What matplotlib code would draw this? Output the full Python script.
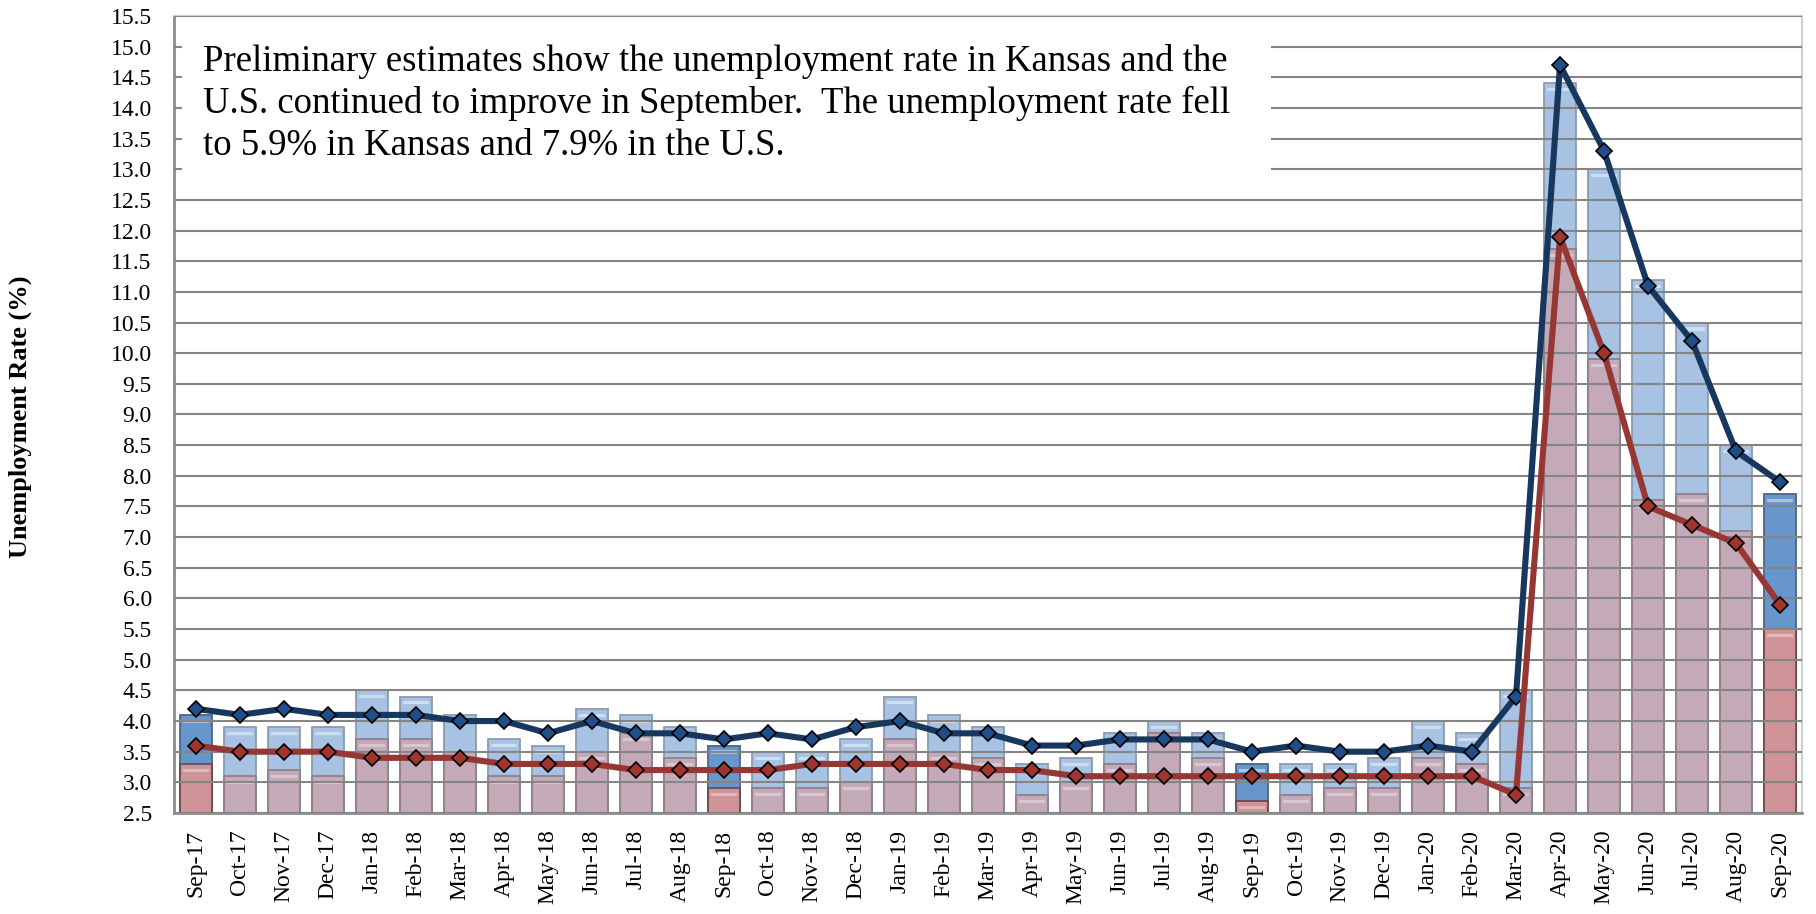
import numpy as np
import matplotlib
matplotlib.use("Agg")
import matplotlib.pyplot as plt
from matplotlib.patches import Rectangle

# month labels, Sep-17 .. Sep-20
months = ["Sep-17", "Oct-17", "Nov-17", "Dec-17", "Jan-18", "Feb-18", "Mar-18", "Apr-18",
          "May-18", "Jun-18", "Jul-18", "Aug-18", "Sep-18", "Oct-18", "Nov-18", "Dec-18",
          "Jan-19", "Feb-19", "Mar-19", "Apr-19", "May-19", "Jun-19", "Jul-19", "Aug-19",
          "Sep-19", "Oct-19", "Nov-19", "Dec-19", "Jan-20", "Feb-20", "Mar-20", "Apr-20",
          "May-20", "Jun-20", "Jul-20", "Aug-20", "Sep-20"]

# not seasonally adjusted (bars)
us_nsa = [4.1, 3.9, 3.9, 3.9, 4.5, 4.4, 4.1, 3.7, 3.6, 4.2, 4.1, 3.9, 3.6, 3.5, 3.5, 3.7,
          4.4, 4.1, 3.9, 3.3, 3.4, 3.8, 4.0, 3.8, 3.3, 3.3, 3.3, 3.4, 4.0, 3.8, 4.5, 14.4,
          13.0, 11.2, 10.5, 8.5, 7.7]
ks_nsa = [3.3, 3.1, 3.2, 3.1, 3.7, 3.7, 3.5, 3.1, 3.1, 3.5, 3.8, 3.4, 2.9, 2.9, 2.9, 3.0,
          3.7, 3.5, 3.4, 2.8, 3.0, 3.3, 3.8, 3.4, 2.7, 2.8, 2.9, 2.9, 3.4, 3.3, 2.9, 11.7,
          9.9, 7.6, 7.7, 7.1, 5.5]

# seasonally adjusted (lines)
us_sa = [4.2, 4.1, 4.2, 4.1, 4.1, 4.1, 4.0, 4.0, 3.8, 4.0, 3.8, 3.8, 3.7, 3.8, 3.7, 3.9,
         4.0, 3.8, 3.8, 3.6, 3.6, 3.7, 3.7, 3.7, 3.5, 3.6, 3.5, 3.5, 3.6, 3.5, 4.4, 14.7,
         13.3, 11.1, 10.2, 8.4, 7.9]
ks_sa = [3.6, 3.5, 3.5, 3.5, 3.4, 3.4, 3.4, 3.3, 3.3, 3.3, 3.2, 3.2, 3.2, 3.2, 3.3, 3.3,
         3.3, 3.3, 3.2, 3.2, 3.1, 3.1, 3.1, 3.1, 3.1, 3.1, 3.1, 3.1, 3.1, 3.1, 2.8, 11.9,
         10.0, 7.5, 7.2, 6.9, 5.9]

note = ("Preliminary estimates show the unemployment rate in Kansas and the\n"
        "U.S. continued to improve in September.  The unemployment rate fell\n"
        "to 5.9% in Kansas and 7.9% in the U.S.")

base = 2.5
serif = ["Liberation Serif", "DejaVu Serif"]
plt.rcParams["font.family"] = serif

fig = plt.figure(figsize=(18.16, 9.14), dpi=100)
ax = fig.add_axes([0.0958, 0.1105, 0.8965, 0.872])

x = np.arange(len(months))
sep = np.array([m.startswith("Sep") for m in months])

blue_c = np.where(sep, "#6696CC", "#A7C2E2")
pink_c = np.where(sep, "#D09498", "#C4AAB9")
edge_b = np.where(sep, "#4F6580", "#8C9BB0")
edge_p = np.where(sep, "#6E4A50", "#8E8088")

us_h = np.array(us_nsa) - base
ks_h = np.array(ks_nsa) - base
w = 0.72
ax.bar(x, us_h, w, bottom=base, color=blue_c, edgecolor=edge_b, linewidth=1.3, zorder=1)
ax.bar(x, ks_h, w, bottom=base, color=pink_c, edgecolor=edge_p, linewidth=1.3, zorder=1.2)

# glossy strip near the top of each bar
ax.bar(x, 0.05, w * 0.8, bottom=np.array(us_nsa) - 0.13, color="white", alpha=0.45,
       linewidth=0, zorder=1.1)
ax.bar(x, 0.05, w * 0.8, bottom=np.array(ks_nsa) - 0.13, color="white", alpha=0.35,
       linewidth=0, zorder=1.3)

ax.plot(x, us_sa, color="#17375E", lw=4.4, marker="D", ms=8.5, mfc="#1F4E8A",
        mec="black", mew=1.2, zorder=4)
ax.plot(x, ks_sa, color="#963734", lw=4.4, marker="D", ms=8.5, mfc="#A0342F",
        mec="black", mew=1.2, zorder=4)

ax.set_xlim(-0.5, len(months) - 0.5)
ax.set_ylim(2.5, 15.5)
ax.set_yticks(np.arange(2.5, 15.51, 0.5))
ax.set_yticklabels([f"{v:.1f}" for v in np.arange(2.5, 15.51, 0.5)])
ax.set_xticks(x)
ax.set_xticklabels(months, rotation=90)
ax.tick_params(axis="both", length=0, labelsize=17)
ax.tick_params(axis="x", pad=12)
ax.tick_params(axis="y", pad=16)

ax.set_axisbelow(False)
ax.yaxis.grid(True, color="#858585", lw=1.5, zorder=1.5)
for s in ["left", "bottom"]:
    ax.spines[s].set_color("#8C8C8C")
    ax.spines[s].set_linewidth(2)
for s in ["top", "right"]:
    ax.spines[s].set_color("#D0D0D0")
    ax.spines[s].set_linewidth(1.5)

fig.text(0.011, 0.544, "Unemployment Rate (%)", rotation=90, va="center", ha="center",
         fontsize=19, fontweight="bold")

# white note box over the upper-left gridlines
box = Rectangle((0.1, 0.795), 0.6, 0.182, transform=fig.transFigure, facecolor="white",
                edgecolor="none", zorder=5)
ax.add_artist(box)
box.set_clip_on(False)
fig.text(0.112, 0.887, note, fontsize=26.5, va="center", ha="left", linespacing=1.27,
         zorder=6)

fig.savefig("out.png", dpi=100)
